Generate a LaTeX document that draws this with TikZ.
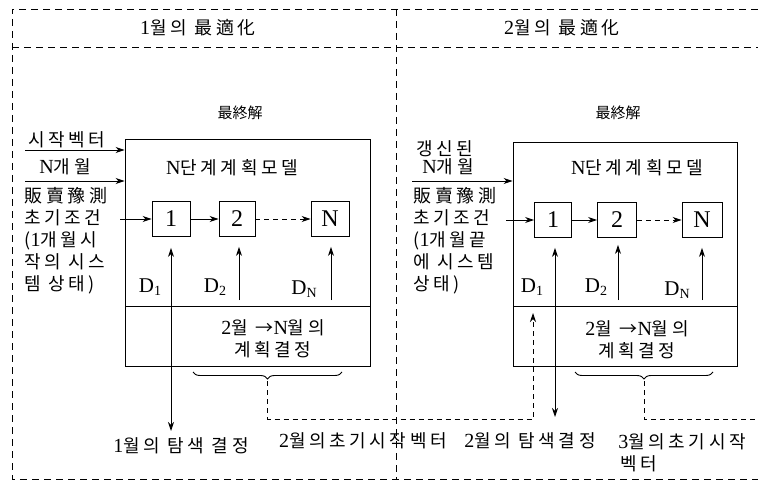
\documentclass[tikz,border=0pt]{standalone}
\usepackage{fontspec}
\setmainfont{Liberation Serif}
\newfontfamily\krfont[LetterSpace=20]{Noto Sans CJK KR}
\newfontfamily\krtight{Noto Sans CJK KR}
\usetikzlibrary{arrows.meta,decorations.pathreplacing,calc}
\newcommand\lat[1]{{\rmfamily\fontsize{20}{22}\selectfont #1}}
\newcommand\Dl[1]{{\rmfamily\fontsize{21}{22}\selectfont D\raisebox{-0.35ex}{\fontsize{14}{15}\selectfont #1}}}
\tikzset{
  kr/.style={inner sep=0pt, font=\krfont\fontsize{18}{22}\selectfont},
  ttl/.style={inner sep=0pt, font=\krtight\fontsize{15}{17}\selectfont},
  stepbox/.style={draw, line width=0.9pt, minimum height=35pt, inner sep=0pt, font=\rmfamily\fontsize{24}{26}\selectfont},
  panel/.style={draw, line width=0.9pt, inner sep=0pt},
  arr/.style={-{Stealth[length=9pt,width=6pt]}},
  dbl/.style={{Stealth[length=9pt,width=6pt]}-{Stealth[length=9pt,width=6pt]}},
  frame/.style={dash pattern=on 7pt off 5pt, line width=0.9pt},
  dsh/.style={dash pattern=on 5pt off 4pt},
  br/.style={decorate, decoration={brace, mirror, amplitude=7pt}},
}
\begin{document}
\begin{tikzpicture}[x=1pt, y=-1pt, line width=0.9pt]
\useasboundingbox (0,0) rectangle (758,484);
% outer frame
\draw[frame] (758,9) -- (12,9) -- (12,479) -- (758,479);
\draw[frame] (12,47) -- (758,47);
\draw[frame] (396,9) -- (396,479);
% headers
\node[kr] (h1) at (198,28) {\lat{1}월의 最適化};
\node[kr] (h2) at (562,28) {\lat{2}월의 最適化};

% ---------- left panel ----------
\node[ttl] (f1) at (240,113) {最終解};
\node[panel, minimum width=245pt, minimum height=227pt] (M1) at (247.5,252.5) {};
\draw (125,306) -- (370,306);
\node[kr] (n1) at (232,168) {\lat{N}단계계획모델};
\node[stepbox, minimum width=38pt] (a1) at (171,219) {1};
\node[stepbox, minimum width=36pt] (a2) at (237,219) {2};
\node[stepbox, minimum width=38pt] (aN) at (330,219) {N};
\coordinate (ain) at (120,219);
\draw[arr] (ain) -- (a1);
\draw[arr] (a1) -- (a2);
\draw[arr, dsh] (a2) -- (aN);
\coordinate (a1d) at (171,431);
\draw[dbl] (a1d) -- ($(a1.south)+(0,11)$);
\coordinate (a2d) at (239,300);
\draw[arr] (a2d) -- ($(a2.south)+(2,10)$);
\coordinate (aNd) at (331,300);
\draw[arr] (aNd) -- ($(aN.south)+(1,10)$);
\node[inner sep=0pt] (dl1) at (150,287) {\Dl{1}};
\node[inner sep=0pt] (dl2) at (215,287) {\Dl{2}};
\node[inner sep=0pt] (dlN) at (304,289) {\Dl{N}};
% inputs
\node[kr] (s1) at (67,140) {시작벡터};
\coordinate (i1) at (25,150);
\draw[arr] (i1) -- (i1 -| M1.west);
\node[kr] (s2) at (65,167) {\lat{N}개월};
\coordinate (i2) at (25,181);
\draw[arr] (i2) -- (i2 -| M1.west);
\node[kr, anchor=west, align=left] (L1) at (24,241) {販賣豫測\\초기조건\\(\lat{1}개월시\\작의 시스\\템 상태)};
\node[kr, align=center] (p1) at (273,339) {\lat{2}월 →\lat{N}월의\\계획결정};
% brace and dashed feed
\draw[br] (193,372) -- (342,372);
\coordinate (t1) at (267.5,381);
\coordinate (k1) at (267.5,419);
\coordinate (k2) at (533,419);
\coordinate (k3) at (533,313);
\draw[dsh, arr] (t1) -- (k1) -- (k2) -- (k3);

% ---------- right panel ----------
\node[ttl] (f2) at (618,113) {最終解};
\node[panel, minimum width=224pt, minimum height=224pt] (M2) at (625,254) {};
\draw (513,306) -- (737,306);
\node[kr] (n2) at (637,168) {\lat{N}단계계획모델};
\node[stepbox, minimum width=37pt] (c1) at (553,220) {1};
\node[stepbox, minimum width=39pt] (c2) at (617,220) {2};
\node[stepbox, minimum width=40pt] (cN) at (702,220) {N};
\coordinate (cin) at (506,220);
\draw[arr] (cin) -- (c1);
\draw[arr] (c1) -- (c2);
\draw[arr, dsh] (c2) -- (cN);
\coordinate (c1d) at (555,417);
\draw[dbl] (c1d) -- ($(c1.south)+(2,10)$);
\coordinate (c2d) at (618,300);
\draw[arr] (c2d) -- ($(c2.south)+(1,7)$);
\coordinate (cNd) at (702,300);
\draw[arr] (cNd) -- ($(cN.south)+(0,10)$);
\node[inner sep=0pt] (dr1) at (532,287) {\Dl{1}};
\node[inner sep=0pt] (dr2) at (596,287) {\Dl{2}};
\node[inner sep=0pt] (drN) at (677,290) {\Dl{N}};
\node[kr] (g1) at (445,149) {갱신된};
\node[kr] (g2) at (448,167) {\lat{N}개월};
\coordinate (j1) at (412,181);
\draw[arr] (j1) -- (j1 -| M2.west);
\node[kr, anchor=west, align=left] (R1) at (413,241) {販賣豫測\\초기조건\\(\lat{1}개월끝\\에 시스템\\상태)};
\node[kr, align=center] (p2) at (637,340) {\lat{2}월 →\lat{N}월의\\계획결정};
\draw[br] (575,372) -- (713,372);
\coordinate (t2) at (644,381);
\coordinate (m1) at (644,419);
\coordinate (m2) at (758,419);
\draw[dsh] (t2) -- (m1) -- (m2);

% ---------- bottom labels ----------
\node[kr] (q1) at (181,446) {\lat{1}월의 탐색 결정};
\node[kr] (q2) at (363,441) {\lat{2}월의초기시작벡터};
\node[kr] (q3) at (530,441) {\lat{2}월의 탐색결정};
\node[kr, anchor=west] (q4) at (618,442) {\lat{3}월의초기시작};
\node[kr, anchor=west] (q5) at (620,464) {벡터};
\end{tikzpicture}
\end{document}
